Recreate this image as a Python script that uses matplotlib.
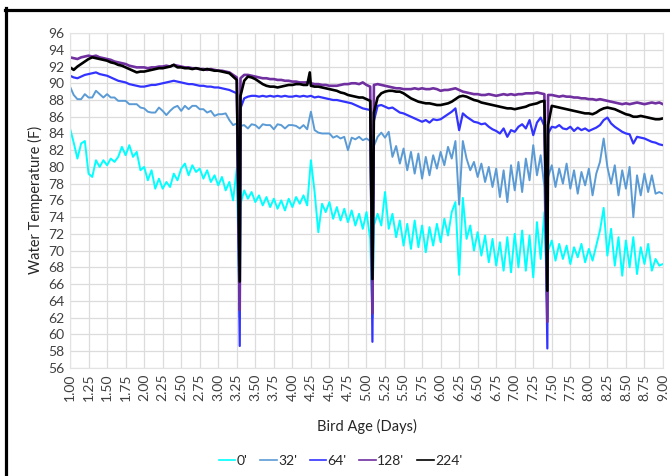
import numpy as np
import matplotlib.pyplot as plt
from matplotlib.lines import Line2D

plt.rcParams['font.family'] = ['Lato', 'DejaVu Sans']

# bird age grid (days), one reading every 0.05 day
days = np.linspace(1.0, 9.0, 161)

# water temperature readings (F), rows = one day each
t_0 = [
    84.6, 82.9, 81.0, 82.8, 83.1, 79.2, 78.8, 80.8, 80.0, 80.8, 80.2, 81.0, 80.6, 81.2, 82.4, 81.4, 82.6, 81.2, 81.8, 79.6,
    80.0, 78.4, 79.6, 77.4, 78.6, 77.4, 78.2, 77.6, 79.2, 78.4, 79.8, 80.4, 79.0, 80.2, 79.4, 79.8, 78.6, 79.6, 78.2, 79.0,
    77.8, 78.8, 77.2, 78.2, 76.0, 79.8, 75.6, 77.2, 76.2, 77.0, 75.8, 76.6, 75.4, 76.4, 75.2, 76.2, 75.0, 76.0, 74.8, 76.2,
    75.2, 76.4, 75.6, 76.6, 75.4, 80.8, 77.0, 72.2, 75.6, 74.6, 75.8, 73.8, 75.2, 73.6, 75.0, 73.4, 74.8, 73.0, 74.4, 72.6,
    74.6, 71.4, 73.0, 74.4, 73.0, 77.0, 72.6, 74.4, 71.6, 73.6, 70.6, 73.2, 70.2, 73.6, 70.4, 73.0, 69.8, 72.8, 70.6, 73.2,
    71.0, 73.8, 71.8, 74.6, 75.8, 67.1, 76.3, 71.4, 73.0, 70.0, 72.2, 69.4, 71.8, 68.6, 71.4, 68.2, 71.0, 67.6, 71.6, 67.4,
    72.0, 68.0, 72.4, 67.6, 71.8, 66.8, 73.4, 69.0, 74.6, 70.0, 71.2, 68.8, 70.8, 69.0, 70.6, 68.4, 70.4, 69.2, 70.8, 68.6,
    70.2, 68.8, 70.6, 72.4, 75.1, 69.4, 72.6, 68.2, 71.6, 67.0, 71.2, 68.0, 71.6, 67.2, 70.4, 68.4, 70.8, 67.6, 69.0, 68.2,
    68.4,
]
t_32 = [
    89.6, 88.6, 88.1, 88.1, 88.7, 88.3, 88.3, 89.1, 88.7, 88.3, 88.7, 88.3, 88.3, 87.9, 87.9, 87.9, 87.5, 87.5, 87.5, 87.1,
    87.0, 86.6, 86.5, 86.5, 87.1, 86.7, 86.2, 86.7, 87.1, 87.3, 86.7, 87.3, 86.9, 87.3, 87.3, 86.9, 86.9, 86.5, 86.7, 86.1,
    86.3, 86.3, 86.4, 85.6, 85.0, 85.2, 84.9, 85.0, 84.6, 85.1, 85.0, 84.6, 85.1, 85.0, 85.0, 84.5, 85.1, 85.0, 84.6, 85.0,
    85.0, 84.9, 84.6, 85.0, 84.5, 86.6, 84.4, 84.1, 84.0, 84.0, 84.0, 83.5, 83.7, 83.4, 83.6, 82.0, 83.5, 83.3, 83.6, 83.2,
    83.4, 83.1, 82.5, 83.6, 84.1, 83.5, 84.2, 81.2, 82.5, 80.4, 82.2, 79.6, 81.8, 79.2, 81.6, 78.6, 81.2, 79.0, 81.4, 79.8,
    81.8, 80.2, 82.4, 81.0, 83.1, 75.5, 83.1, 81.0, 79.6, 80.6, 78.8, 80.4, 78.2, 80.0, 77.6, 79.8, 76.4, 79.6, 75.8, 80.2,
    77.2, 80.6, 77.0, 81.0, 78.4, 82.6, 79.0, 81.4, 77.6, 78.8, 80.2, 77.6, 79.8, 78.0, 80.4, 77.4, 79.6, 76.8, 79.4, 77.8,
    79.8, 76.6, 79.2, 80.6, 83.4, 80.0, 78.0, 80.2, 76.6, 79.6, 77.4, 80.0, 74.0, 79.0, 76.6, 79.2, 77.0, 79.0, 76.8, 77.0,
    76.8,
]
t_64 = [
    90.9, 90.7, 90.6, 90.8, 91.0, 91.1, 91.2, 91.3, 91.1, 91.0, 90.9, 90.7, 90.5, 90.3, 90.2, 90.1, 89.9, 89.8, 89.7, 89.6,
    89.6, 89.7, 89.8, 89.8, 89.9, 90.0, 90.1, 90.2, 90.3, 90.2, 90.1, 90.0, 89.9, 89.9, 89.8, 89.7, 89.7, 89.6, 89.6, 89.5,
    89.5, 89.4, 89.3, 89.2, 89.0, 88.8, 87.0, 88.2, 88.4, 88.5, 88.5, 88.4, 88.5, 88.4, 88.5, 88.4, 88.5, 88.4, 88.5, 88.4,
    88.4, 88.5, 88.4, 88.5, 88.4, 88.5, 88.3, 88.4, 88.3, 88.2, 88.1, 88.0, 88.0, 87.9, 87.8, 87.7, 87.6, 87.4, 87.2, 87.0,
    86.9, 86.8, 85.5, 87.3, 87.4, 87.2, 87.0, 87.1, 86.8, 86.5, 86.4, 86.2, 86.0, 85.8, 85.6, 85.4, 85.6, 85.3, 85.7, 85.6,
    85.7, 86.0, 86.3, 86.6, 87.0, 84.4, 86.4, 86.0, 85.7, 85.4, 85.3, 85.1, 85.2, 84.8, 84.5, 84.3, 84.0, 84.6, 83.6, 84.4,
    84.2, 84.8, 85.1, 84.6, 85.6, 83.8, 85.3, 85.9, 84.9, 84.0, 84.8, 84.7, 85.0, 84.6, 84.5, 84.8, 84.3, 84.7, 84.4, 84.6,
    84.3, 84.5, 84.7, 85.0, 85.6, 85.9, 85.2, 84.8, 84.5, 84.2, 84.0, 83.9, 82.8, 83.6, 83.5, 83.4, 83.2, 83.0, 82.9, 82.7,
    82.6,
]
t_128 = [
    93.1, 93.0, 92.9, 93.1, 93.2, 93.3, 93.2, 93.3, 93.1, 93.0, 92.9, 92.8, 92.6, 92.5, 92.4, 92.3, 92.1, 92.0, 91.9, 91.9,
    91.9, 91.8, 91.9, 91.9, 92.0, 92.0, 92.1, 92.0, 92.2, 92.1, 92.0, 91.9, 91.9, 91.8, 91.8, 91.7, 91.7, 91.6, 91.7, 91.6,
    91.5, 91.5, 91.4, 91.3, 91.0, 90.7, 90.6, 91.0, 91.0, 90.9, 90.8, 90.7, 90.6, 90.6, 90.5, 90.5, 90.4, 90.4, 90.3, 90.3,
    90.2, 90.2, 90.1, 90.1, 90.1, 90.0, 89.9, 89.9, 89.8, 89.8, 89.7, 89.7, 89.7, 89.8, 89.9, 89.9, 90.0, 90.0, 89.9, 90.1,
    89.8, 89.6, 89.8, 89.9, 89.8, 89.7, 89.6, 89.5, 89.4, 89.4, 89.3, 89.3, 89.3, 89.4, 89.3, 89.4, 89.3, 89.3, 89.4, 89.3,
    89.1, 89.2, 89.2, 89.3, 89.4, 89.2, 89.0, 88.9, 88.8, 88.7, 88.7, 88.6, 88.6, 88.7, 88.6, 88.5, 88.6, 88.7, 88.6, 88.7,
    88.6, 88.7, 88.7, 88.8, 88.8, 88.8, 88.9, 88.8, 88.7, 88.6, 88.6, 88.5, 88.4, 88.5, 88.4, 88.4, 88.3, 88.3, 88.2, 88.2,
    88.1, 88.1, 88.0, 88.1, 88.0, 87.9, 87.8, 87.7, 87.6, 87.5, 87.6, 87.5, 87.6, 87.7, 87.6, 87.5, 87.6, 87.7, 87.6, 87.7,
    87.5,
]
t_224 = [
    91.9, 91.6, 92.0, 92.3, 92.6, 92.9, 93.1, 93.0, 92.9, 92.8, 92.7, 92.5, 92.4, 92.2, 92.1, 91.9, 91.7, 91.5, 91.3, 91.4,
    91.4, 91.5, 91.6, 91.7, 91.8, 91.8, 91.9, 92.0, 92.2, 91.9, 91.9, 91.8, 91.8, 91.7, 91.8, 91.7, 91.6, 91.7, 91.6, 91.5,
    91.5, 91.4, 91.3, 91.2, 90.8, 90.4, 88.5, 90.3, 90.8, 90.7, 90.5, 90.2, 89.9, 89.7, 89.6, 89.6, 89.5, 89.6, 89.7, 89.8,
    89.8, 89.9, 89.9, 89.8, 89.8, 89.7, 89.6, 89.6, 89.5, 89.4, 89.3, 89.2, 89.1, 88.9, 88.8, 88.6, 88.5, 88.4, 88.3, 88.3,
    88.1, 87.9, 86.5, 88.3, 88.8, 89.0, 89.1, 89.1, 89.0, 89.0, 88.8, 88.5, 88.2, 88.0, 87.8, 87.7, 87.6, 87.6, 87.5, 87.4,
    87.4, 87.5, 87.6, 87.8, 88.1, 88.4, 88.5, 88.4, 88.2, 88.0, 87.9, 87.7, 87.6, 87.5, 87.4, 87.3, 87.2, 87.1, 87.0, 87.0,
    86.9, 87.0, 87.1, 87.2, 87.4, 87.5, 87.6, 87.8, 87.9, 85.0, 87.3, 87.2, 87.1, 87.0, 86.9, 86.8, 86.7, 86.6, 86.5, 86.4,
    86.4, 86.3, 86.5, 86.8, 87.0, 87.1, 87.0, 86.9, 86.7, 86.5, 86.3, 86.2, 86.0, 86.0, 86.1, 86.0, 85.9, 85.8, 85.7, 85.7,
    85.8,
]

# sudden drops and the lowest reading of each series there
drop_days = [3.29, 5.08, 7.44]
drop_0 = [62.0, 62.0, 62.0]
drop_32 = [62.0, 62.0, 62.0]
drop_64 = [58.6, 59.1, 58.3]
drop_128 = [62.9, 62.5, 61.5]
drop_224 = [66.3, 66.6, 65.2]

# single spike in the 224' reading
spike_days = [4.235]
spike_224 = [91.3]

labels = ["0'", "32'", "64'", "128'", "224'"]
colors = ['#00FFFF', '#5B9BD5', '#3333FF', '#7030A0', '#000000']
widths = [1.4, 1.4, 1.6, 1.9, 1.9]


def merge(xs, ys, extra_x, extra_y):
    x = np.concatenate([xs, extra_x])
    y = np.concatenate([ys, extra_y])
    order = np.argsort(x, kind='stable')
    return x[order], y[order]


series = [
    merge(days, t_0, drop_days, drop_0),
    merge(days, t_32, drop_days, drop_32),
    merge(days, t_64, drop_days, drop_64),
    merge(days, t_128, drop_days, drop_128),
    merge(days, t_224, drop_days + spike_days, drop_224 + spike_224),
]

fig = plt.figure(figsize=(6.7, 4.76), dpi=100)
ax = fig.add_axes([0.1045, 0.2275, 0.885, 0.703])

for (x, y), c, w, lab in zip(series, colors, widths, labels):
    ax.plot(x, y, color=c, lw=w, label=lab)

ax.set_xlim(1, 9)
ax.set_ylim(56, 96)
ax.set_xticks(np.arange(1, 9.01, 0.25))
ax.set_xticklabels([f'{v:.2f}' for v in np.arange(1, 9.01, 0.25)], rotation=90)
ax.set_yticks(np.arange(56, 97, 2))
ax.tick_params(length=0, labelsize=10, colors='#404040', pad=4)
ax.grid(True, color='#DCDCDC', lw=0.9)
ax.set_axisbelow(True)
for s in ax.spines.values():
    s.set_color('#E3E3E3')

ax.set_ylabel('Water Temperature (F)', fontsize=10.5, color='#262626', labelpad=4)
fig.text(0.548, 0.105, 'Bird Age (Days)', ha='center', va='center', fontsize=10.5, color='#262626')

handles = [Line2D([], [], color=c, lw=1.2) for c in colors]
fig.legend(handles, labels, loc='center', bbox_to_anchor=(0.508, 0.032), ncol=5, frameon=False,
           fontsize=10, handlelength=1.2, handletextpad=0.1, columnspacing=0.9, labelcolor='#262626')

# black frame on the left and top edges of the screenshot
fig.add_artist(Line2D([5.5 / 670, 5.5 / 670], [0, 1 - 8 / 476], transform=fig.transFigure, color='black', lw=2.3))
fig.add_artist(Line2D([4.5 / 670, 1], [1 - 9.5 / 476, 1 - 9.5 / 476], transform=fig.transFigure, color='black', lw=2.3))

fig.savefig('out.png', dpi=100)
